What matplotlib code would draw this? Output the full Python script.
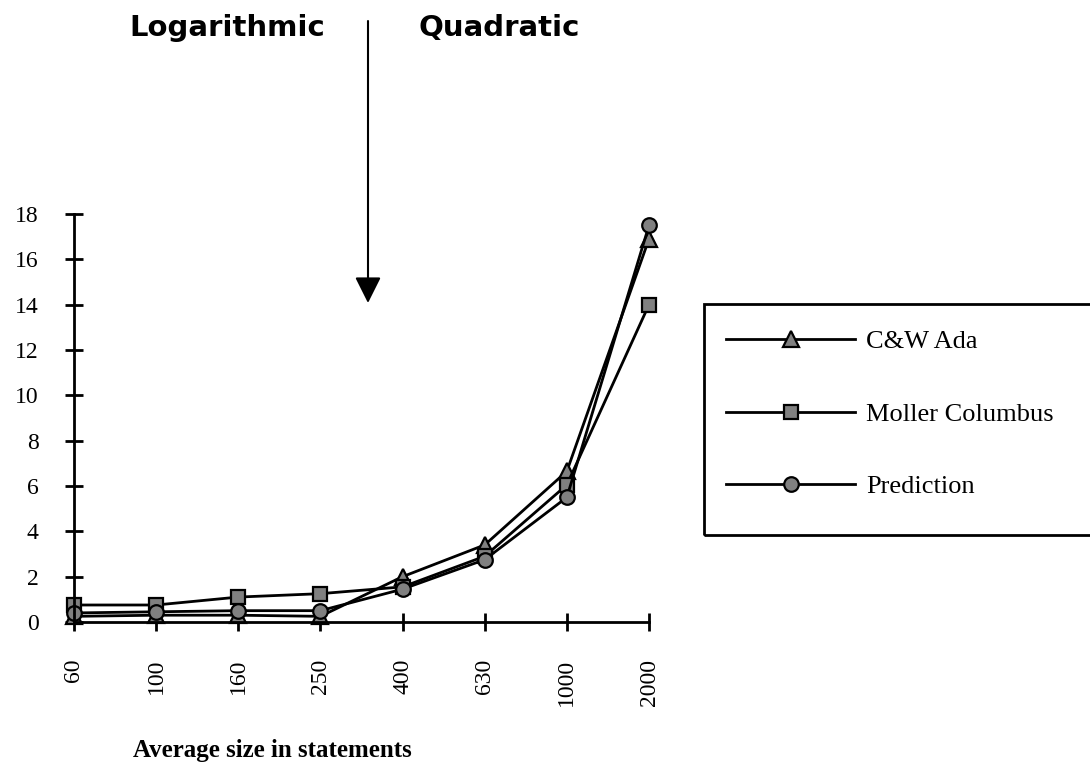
import matplotlib.pyplot as plt
from matplotlib.patches import Rectangle

sizes = ['60', '100', '160', '250', '400', '630', '1000', '2000']
cw_ada = [0.25, 0.3, 0.3, 0.25, 2.0, 3.4, 6.65, 16.9]
moller = [0.75, 0.75, 1.1, 1.25, 1.55, 2.9, 6.05, 14.0]
prediction = [0.4, 0.45, 0.5, 0.5, 1.45, 2.75, 5.5, 17.5]
y_ticks = [0, 2, 4, 6, 8, 10, 12, 14, 16, 18]

serif = 'Liberation Serif'

fig = plt.figure(figsize=(10.9, 7.68), dpi=100)
ax = fig.add_axes([74 / 1090, 1 - 622 / 768, 575 / 1090, 408 / 768])

x = list(range(len(sizes)))
estilo = dict(color='black', lw=2, markerfacecolor='#808080',
              markeredgecolor='black', markeredgewidth=1.6, clip_on=False)
ax.plot(x, cw_ada, marker='^', markersize=11.5, label='C&W Ada', **estilo)
ax.plot(x, moller, marker='s', markersize=10, label='Moller Columbus', **estilo)
ax.plot(x, prediction, marker='o', markersize=10.5, label='Prediction', **estilo)

ax.set_xlim(0, len(sizes) - 1)
ax.set_ylim(0, 18)
ax.set_xticks(x)
ax.set_xticklabels(sizes, rotation=90, fontsize=17, family=serif)
ax.set_yticks(y_ticks)
ax.set_yticklabels([str(v) for v in y_ticks], fontsize=17, family=serif)
ax.tick_params(axis='both', direction='inout', length=13, width=2)
ax.tick_params(axis='y', pad=19)
ax.tick_params(axis='x', pad=20)
for lbl in ax.get_xticklabels():
    lbl.set_verticalalignment('top')

for lado in ['top', 'right']:
    ax.spines[lado].set_visible(False)
for lado in ['left', 'bottom']:
    ax.spines[lado].set_linewidth(2)

ax.set_xlabel('Average size in statements', fontsize=18, fontweight='bold',
              family=serif, va='center')
ax.xaxis.set_label_coords((272 - 74) / 575, (622 - 750) / 408)

# leyenda sin marco, el marco se dibuja aparte porque se sale de la figura
ax.legend(loc='center left', bbox_to_anchor=(726 / 1090, 1 - 414 / 768),
          bbox_transform=fig.transFigure, frameon=False, borderpad=0,
          borderaxespad=0, handlelength=4.9, handletextpad=0.4,
          labelspacing=1.85, prop={'family': serif, 'size': 19})
fig.add_artist(Rectangle((704 / 1090, 1 - 535 / 768), 0.5, 231 / 768,
                         transform=fig.transFigure, fill=False, lw=2,
                         edgecolor='black', clip_on=False))

fig.text(227 / 1090, 1 - 28 / 768, 'Logarithmic', ha='center', va='center',
         fontsize=21, fontweight='bold', family='DejaVu Sans')
fig.text(499 / 1090, 1 - 28 / 768, 'Quadratic', ha='center', va='center',
         fontsize=21, fontweight='bold', family='DejaVu Sans')
ax.annotate('', xy=(368 / 1090, 1 - 303 / 768), xytext=(368 / 1090, 1 - 21 / 768),
            xycoords='figure fraction', textcoords='figure fraction',
            arrowprops=dict(arrowstyle='-|>,head_length=0.8,head_width=0.4',
                            mutation_scale=20, lw=1.5, color='black',
                            shrinkA=0, shrinkB=0))

fig.savefig('out.png', dpi=100)
